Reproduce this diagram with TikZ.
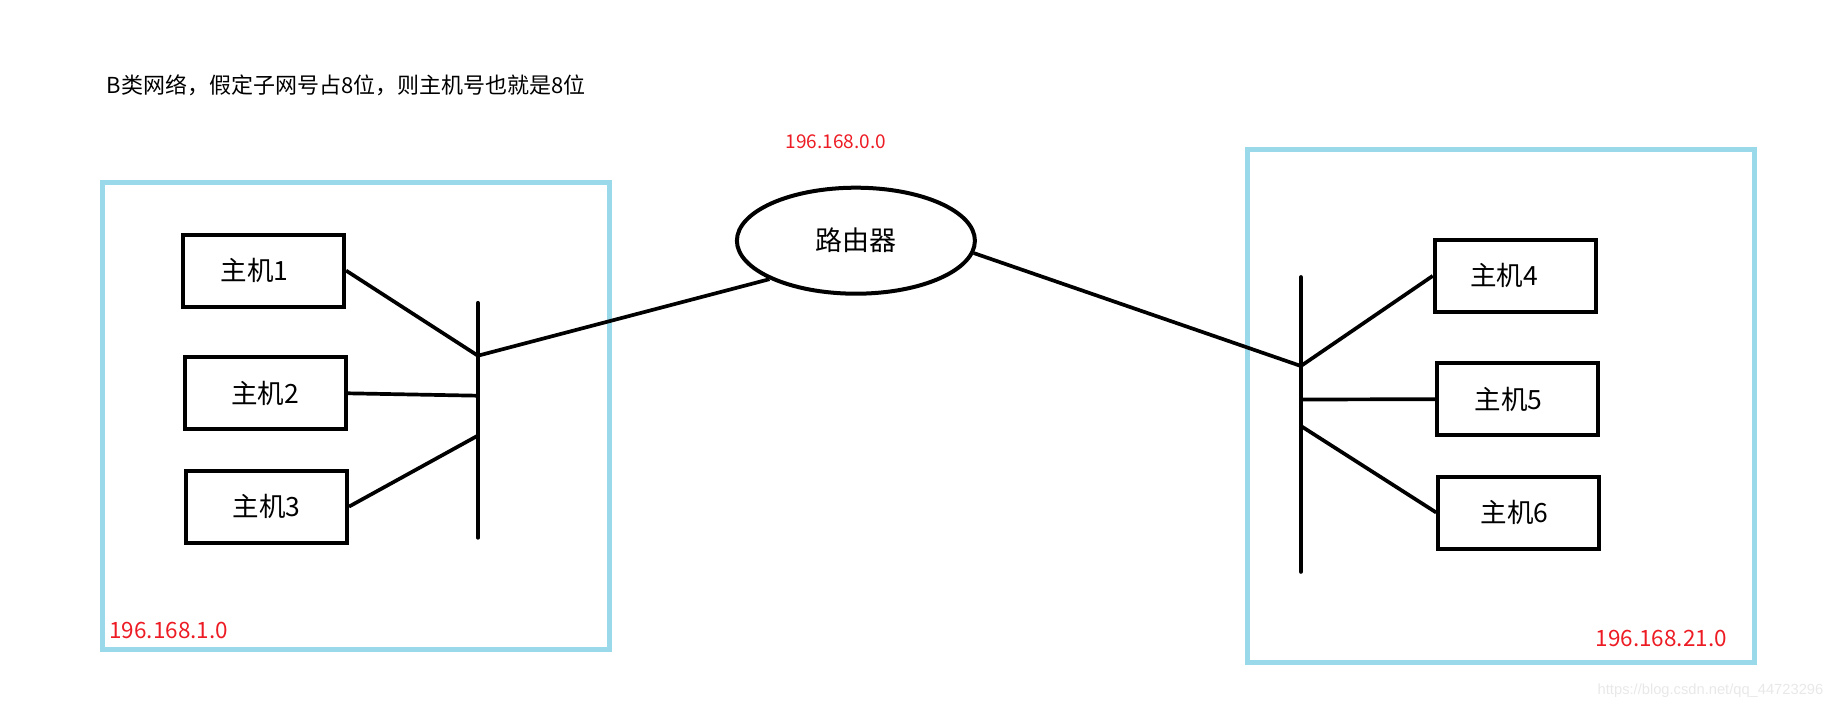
\documentclass[tikz,border=0pt]{standalone}
\usepackage{fontspec}
\newfontfamily\cjk{Noto Sans CJK SC}
\newfontfamily\wmfont{Liberation Sans}
\usetikzlibrary{shapes.geometric}
\definecolor{netblue}{HTML}{99D9EA}
\definecolor{ipred}{HTML}{ED1C24}

\begin{document}
\begin{tikzpicture}[
  x=1pt, y=-1pt,
  font=\cjk,
  host/.style={draw, line width=4pt, minimum width=161pt, minimum height=72pt, inner sep=0pt, font=\cjk\fontsize{26.5}{32}\selectfont},
  router/.style={draw, ellipse, line width=4pt, minimum width=238pt, minimum height=106pt, inner sep=0pt, font=\cjk\fontsize{27}{32}\selectfont},
  subnet/.style={draw=netblue, line width=5pt, inner sep=0pt},
  link/.style={line width=3.7pt},
  bus/.style={line width=4pt, line cap=round},
  ip/.style={text=ipred, inner sep=0pt, font=\cjk\fontsize{22.5}{26}\selectfont}
]
\useasboundingbox (0,0) rectangle (1841,709);

% subnets
\node[subnet, minimum width=507pt, minimum height=467pt] (lanA) at (355.7,415.6) {};
\node[subnet, minimum width=507pt, minimum height=513pt] (lanB) at (1500.5,405.7) {};

\node[anchor=west, inner sep=0pt, font=\cjk\fontsize{22}{26}\selectfont] (title) at (106.5,85.7)
  {B类网络，假定子网号占8位，则主机号也就是8位};

% router
\node[router] (router) at (855.9,240.7) {路由器};
\node[ip, font=\cjk\fontsize{19}{22}\selectfont] (ipR) at (836,142) {196.168.0.0};

% left side
\node[host] (h1) at (263.6,270.6) {主机1\hspace*{18pt}};
\node[host] (h2) at (265.3,393.3) {主机2};
\node[host] (h3) at (266.5,506.6) {主机3};
\coordinate (busAtop) at (477.9,302.9);
\coordinate (busAbot) at (477.9,537.7);
\coordinate (busA1) at (477.9,355.7);
\coordinate (busA2) at (477.9,395.7);
\coordinate (busA3) at (477.9,435.6);
\draw[bus] (busAtop) -- (busAbot);
\draw[link] (h1.east) -- (busA1);
\draw[link] (h2.east) -- (busA2);
\draw[link] (h3.east) -- (busA3);
\draw[link] (busA1) -- (router.204);
\node[ip, anchor=west] (ipA) at (109.2,630.5) {196.168.1.0};

% right side
\node[host] (h4) at (1515.2,275.9) {主机4\hspace*{22pt}};
\node[host] (h5) at (1517.5,399.2) {主机5\hspace*{18pt}};
\node[host] (h6) at (1518.7,512.5) {主机6\hspace*{8pt}};
\coordinate (busBtop) at (1300.9,277.1);
\coordinate (busBbot) at (1300.9,571.8);
\coordinate (busB1) at (1300.9,366);
\coordinate (busB2) at (1300.9,399.5);
\coordinate (busB3) at (1300.9,426);
\draw[bus] (busBtop) -- (busBbot);
\draw[link] (router.354) -- (busB1);
\draw[link] (busB1) -- (h4.west);
\draw[link] (busB2) -- (h5.west);
\draw[link] (busB3) -- (h6.west);
\node[ip] (ipB) at (1661.3,638.7) {196.168.21.0};

\node[text=black!9, inner sep=0pt, font=\wmfont\fontsize{14.7}{17}\selectfont] (mark) at (1710.5,691)
  {https://blog.csdn.net/qq\_44723296};
\end{tikzpicture}
\end{document}
